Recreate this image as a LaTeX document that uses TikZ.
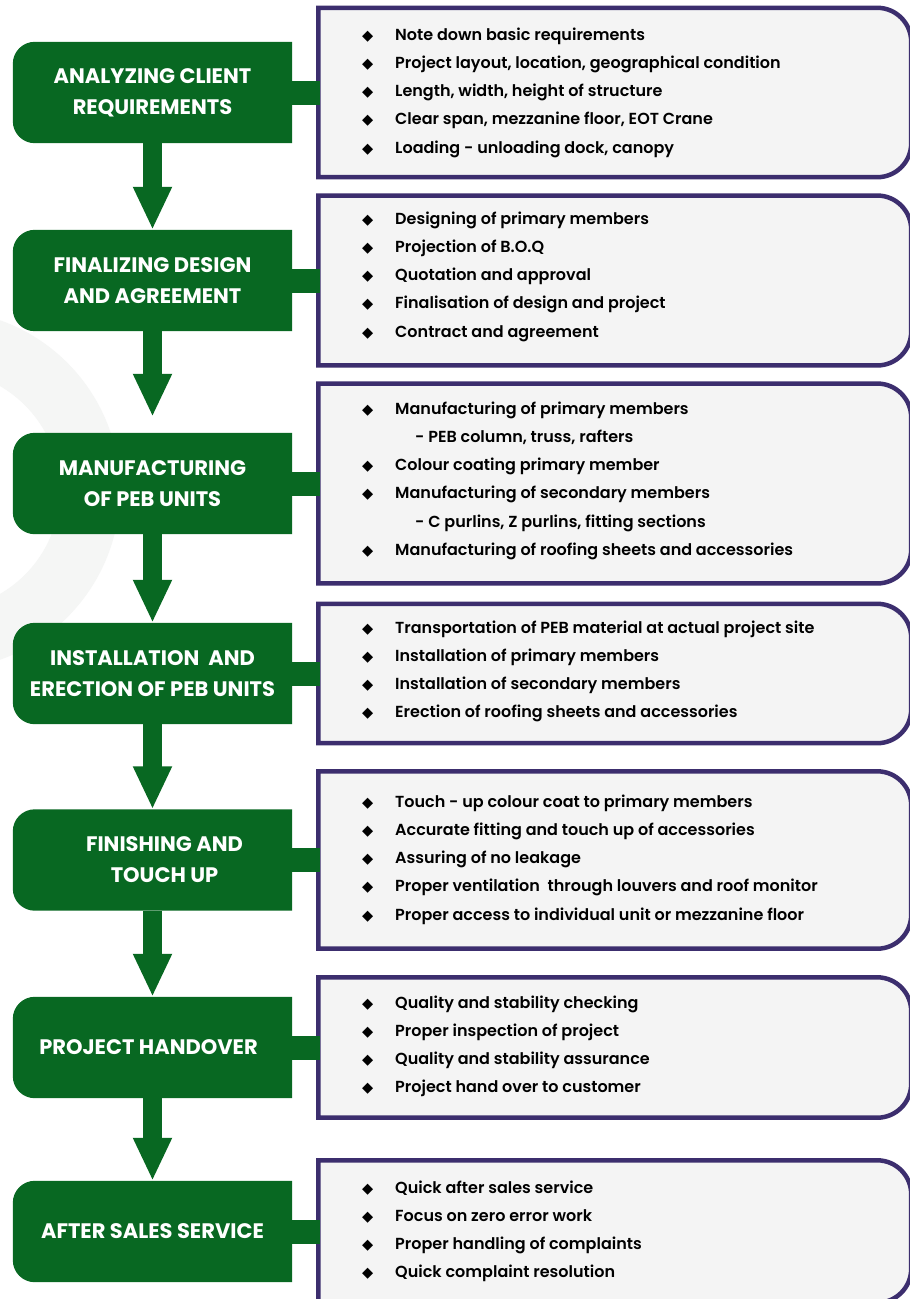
\documentclass[tikz,border=0pt]{standalone}
\usepackage{fontspec}
\setmainfont{Poppins}
\newfontfamily\pebmedium{Poppins SemiBold}
\newfontfamily\pebsym{DejaVu Sans}
\usetikzlibrary{calc}
\usetikzlibrary{arrows.meta}
\usetikzlibrary{backgrounds}

\definecolor{pebgreen}{RGB}{8,104,34}
\definecolor{pebpurple}{RGB}{60,46,110}
\definecolor{pebpanel}{RGB}{244,244,244}
\definecolor{pebring}{RGB}{245,246,245}

\newcommand{\pebbullet}{\makebox[32pt][l]{\hspace*{-1pt}\raisebox{0pt}{\pebsym\fontsize{14.5}{14.5}\selectfont ◆}}}
\newcommand{\pebsub}{\hspace*{52pt}}

\begin{document}
\begin{tikzpicture}[x=1pt,y=1pt,
  stepbox/.style={minimum width=279pt, minimum height=101pt, inner sep=0pt, text=white, align=center, font=\bfseries\fontsize{21}{31}\selectfont},
  panelbox/.style={minimum width=592.5pt, inner sep=0pt},
  listtext/.style={anchor=base west, inner sep=0pt, font=\pebmedium\fontsize{16}{28.3}\selectfont},
  flowarrow/.style={pebgreen, line width=19pt, -{Triangle[length=43pt,width=36pt]}},
  stub/.style={pebgreen, line width=24pt}]
\useasboundingbox (0,0) rectangle (910,-1299);

% steps
\node[stepbox] (b1) at (152.5,-92.5) {ANALYZING CLIENT\\REQUIREMENTS};
\node[stepbox] (b2) at (152.5,-280.5) {FINALIZING DESIGN\\AND AGREEMENT};
\node[stepbox] (b3) at (152.5,-483.5) {MANUFACTURING\\OF PEB UNITS};
\node[stepbox] (b4) at (152.5,-673.5) {INSTALLATION\ \ AND\\ERECTION OF PEB UNITS};
\node[stepbox] (b5) at (152.5,-860) {\hspace*{24pt}FINISHING AND\\\hspace*{24pt}TOUCH UP};
\node[stepbox] (b6) at (152.5,-1047.5) {PROJECT HANDOVER\hspace*{8pt}};
\node[stepbox] (b7) at (152.5,-1231.5) {AFTER SALES SERVICE};

% panels
\node[panelbox, minimum height=169pt] (p1) at ($ (b1.center)+(462.25,0) $) {};
\node[panelbox, minimum height=169.5pt] (p2) at ($ (b2.center)+(462.25,0) $) {};
\node[panelbox, minimum height=199.5pt] (p3) at ($ (b3.center)+(462.25,0) $) {};
\node[panelbox, minimum height=139pt] (p4) at ($ (b4.center)+(462.25,0) $) {};
\node[panelbox, minimum height=177pt] (p5) at ($ (b5.center)+(462.25,0) $) {};
\node[panelbox, minimum height=140pt] (p6) at ($ (b6.center)+(462.25,0) $) {};
\node[panelbox, minimum height=142pt] (p7) at ($ (b7.center)+(462.25,0) $) {};

\begin{scope}[on background layer]
\fill[white] (0,0) rectangle (910,-1299);
\fill[pebring, even odd rule] (-60,-490) circle (180pt) (-60,-490) circle (120pt);
\foreach \n in {1,...,7}{
  \fill[pebgreen] (b\n.north east) -- ([xshift=22pt]b\n.north west) arc[start angle=90,end angle=180,radius=22pt]
    -- ([yshift=22pt]b\n.south west) arc[start angle=180,end angle=270,radius=22pt] -- (b\n.south east) -- cycle;
  \filldraw[pebpurple, fill=pebpanel, line width=4.5pt] (p\n.north west) -- ([xshift=-34pt]p\n.north east)
    arc[start angle=90,end angle=0,radius=34pt] -- ([yshift=34pt]p\n.south east)
    arc[start angle=0,end angle=-90,radius=34pt] -- (p\n.south west) -- cycle;
}
\end{scope}

% stubs and arrows
\foreach \n in {1,...,7}
  \draw[stub] (b\n.east) -- ($ (p\n.west)+(2,0) $);
\foreach \a/\b in {1/2,3/4,4/5,5/6,6/7}
  \draw[flowarrow] (b\a.south) -- (b\b.north);
\draw[flowarrow, shorten >=16pt] (b2.south) -- (b3.north);

% lists
\node[listtext] (t1) at (363,-40) {\begin{tabular}[t]{@{}l@{}}
\pebbullet Note down basic requirements\\
\pebbullet Project layout, location, geographical condition\\
\pebbullet Length, width, height of structure\\
\pebbullet Clear span, mezzanine floor, EOT Crane\\
\pebbullet Loading - unloading dock, canopy
\end{tabular}};
\node[listtext] (t2) at (363,-224) {\begin{tabular}[t]{@{}l@{}}
\pebbullet Designing of primary members\\
\pebbullet Projection of B.O.Q\\
\pebbullet Quotation and approval\\
\pebbullet Finalisation of design and project\\
\pebbullet Contract and agreement
\end{tabular}};
\node[listtext] (t3) at (363,-414) {\begin{tabular}[t]{@{}l@{}}
\pebbullet Manufacturing of primary members\\
\pebsub - PEB column, truss, rafters\\
\pebbullet Colour coating primary member\\
\pebbullet Manufacturing of secondary members\\
\pebsub - C purlins, Z purlins, fitting sections\\
\pebbullet Manufacturing of roofing sheets and accessories
\end{tabular}};
\node[listtext] (t4) at (363,-633) {\begin{tabular}[t]{@{}l@{}}
\pebbullet Transportation of PEB material at actual project site\\
\pebbullet Installation of primary members\\
\pebbullet Installation of secondary members\\
\pebbullet Erection of roofing sheets and accessories
\end{tabular}};
\node[listtext] (t5) at (363,-807) {\begin{tabular}[t]{@{}l@{}}
\pebbullet Touch - up colour coat to primary members\\
\pebbullet Accurate fitting and touch up of accessories\\
\pebbullet Assuring of no leakage\\
\pebbullet Proper ventilation\ \ through louvers and roof monitor\\
\pebbullet Proper access to individual unit or mezzanine floor
\end{tabular}};
\node[listtext] (t6) at (363,-1008) {\begin{tabular}[t]{@{}l@{}}
\pebbullet Quality and stability checking\\
\pebbullet Proper inspection of project\\
\pebbullet Quality and stability assurance\\
\pebbullet Project hand over to customer
\end{tabular}};
\node[listtext] (t7) at (363,-1193) {\begin{tabular}[t]{@{}l@{}}
\pebbullet Quick after sales service\\
\pebbullet Focus on zero error work\\
\pebbullet Proper handling of complaints\\
\pebbullet Quick complaint resolution
\end{tabular}};
\end{tikzpicture}
\end{document}
